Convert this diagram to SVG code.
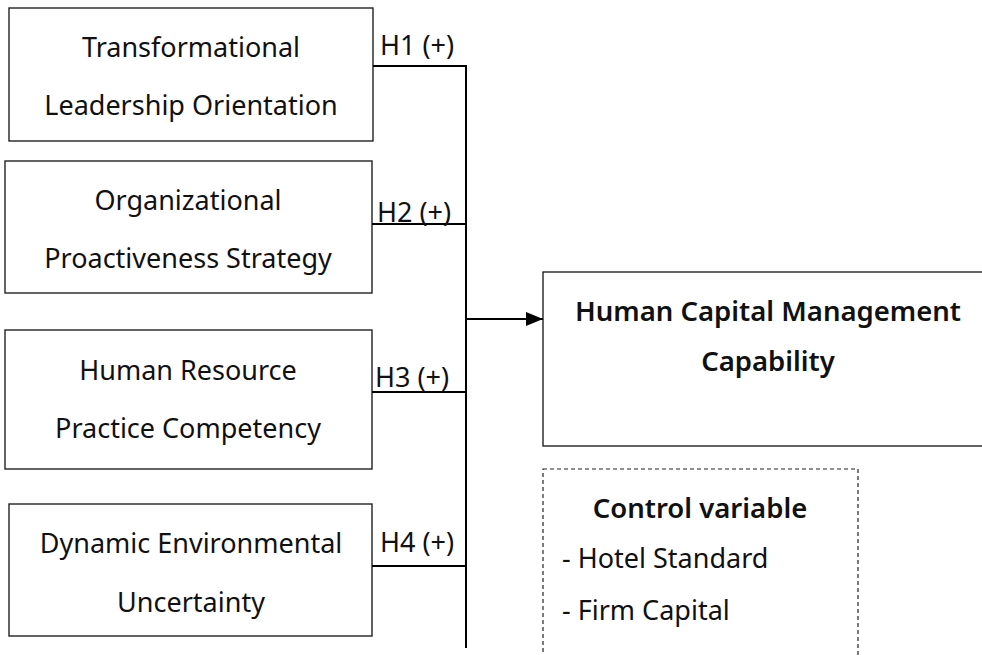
<svg xmlns="http://www.w3.org/2000/svg" width="982" height="655" viewBox="0 0 982 655">
<defs>
<marker id="arr" markerWidth="17" markerHeight="14" refX="17" refY="7" orient="auto" markerUnits="userSpaceOnUse" viewBox="0 0 17 14"><path d="M0,0 L17,7 L0,14 Z" fill="#000"/></marker>
<style>
.box{fill:#fff;stroke:#222;stroke-width:1.4}
.dash{fill:none;stroke:#222;stroke-width:1.2;stroke-dasharray:4,3}
.t{font-family:"Noto Sans","Open Sans",sans-serif;font-size:27px;fill:#111;text-anchor:middle}
.l{font-family:"Noto Sans","Open Sans",sans-serif;font-size:27px;fill:#111}
.b{font-weight:600;font-size:27.5px}
.c{fill:none;stroke:#000;stroke-width:2}
</style>
</defs>
<rect width="982" height="655" fill="#fff"/>
<g id="n1"><rect class="box" x="9" y="8" width="364" height="133"/><text class="t" x="191" y="57">Transformational</text><text class="t" x="191" y="115">Leadership Orientation</text></g>
<g id="n2"><rect class="box" x="5" y="161" width="367" height="132"/><text class="t" x="188" y="210">Organizational</text><text class="t" x="188" y="268">Proactiveness Strategy</text></g>
<g id="n3"><rect class="box" x="5" y="330" width="367" height="139"/><text class="t" x="188" y="380">Human Resource</text><text class="t" x="188" y="438">Practice Competency</text></g>
<g id="n4"><rect class="box" x="9" y="504" width="363" height="132"/><text class="t" x="191" y="553">Dynamic Environmental</text><text class="t" x="191" y="612">Uncertainty</text></g>
<g id="target"><rect class="box" x="543" y="272" width="450" height="174"/><text class="t b" x="768" y="321">Human Capital Management</text><text class="t b" x="768" y="371">Capability</text></g>
<g id="control"><rect class="dash" x="543" y="469" width="315" height="200"/><text class="t b" x="700" y="518">Control variable</text><text class="l" x="562" y="568">- Hotel Standard</text><text class="l" x="562" y="620">- Firm Capital</text></g>
<g id="connectors">
<path class="c" d="M373,66 H466 M372,224 H466 M372,392 H466 M372,566 H466 M466,65 V648"/>
<path class="c" d="M466,319 H543" marker-end="url(#arr)"/>
<text class="l" x="380" y="55">H1 (+)</text>
<text class="l" x="377" y="222">H2 (+)</text>
<text class="l" x="375" y="387">H3 (+)</text>
<text class="l" x="380" y="552">H4 (+)</text>
</g>
</svg>
